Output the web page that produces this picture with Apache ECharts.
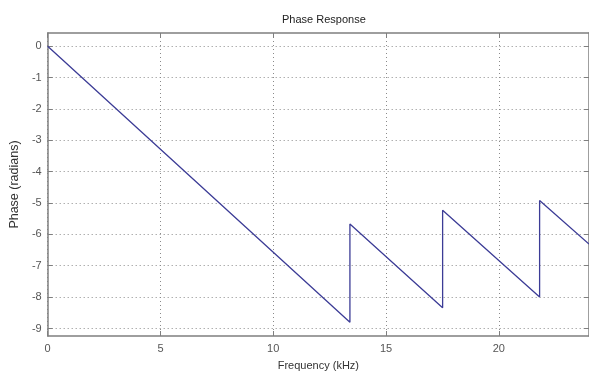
<!DOCTYPE html>
<html>
<head>
<meta charset="utf-8">
<script src="https://cdn.jsdelivr.net/npm/echarts@6/dist/echarts.min.js"></script>
<style>
html,body{margin:0;padding:0;background:#fff;}
#chart{width:589px;height:376px;}
</style>
</head>
<body>
<div id="chart"></div>
<script>
// Data
var freqKHz = [0, 13.40, 13.40, 17.51, 17.51, 21.81, 21.81, 24];
var phaseRad = [0, -8.80, -5.67, -8.34, -5.23, -8.00, -4.92, -6.31];
var yTicks = [0, -1, -2, -3, -4, -5, -6, -7, -8, -9];
var xTicks = [0, 5, 10, 15, 20];
var titleText = 'Phase Response';
var xLabel = 'Frequency (kHz)';
var yLabel = 'Phase (radians)';

var points = freqKHz.map(function (f, i) { return [f, phaseRad[i]]; });

var font = 'Liberation Sans, Arial, sans-serif';
var axisColor = '#7f7f7f';
var gridStyle = { color: '#8a8a8a', type: [1, 3], width: 1 };

var chart = echarts.init(document.getElementById('chart'), null, { renderer: 'canvas' });
chart.setOption({
  animation: false,
  backgroundColor: '#ffffff',
  title: {
    text: titleText,
    left: 277, top: 9,
    textStyle: { fontFamily: font, fontSize: 11, fontWeight: 'normal', color: '#222' }
  },
  grid: { left: 43, top: 33, width: 549, height: 305, containLabel: false },
  xAxis: [{
    type: 'value', min: 0, max: 24, interval: 5,
    name: xLabel, nameLocation: 'middle', nameGap: 24,
    nameTextStyle: { fontFamily: font, fontSize: 11, color: '#333' },
    axisLine: { show: true, onZero: false, lineStyle: { color: axisColor, width: 1.5 } },
    axisTick: { show: true, inside: true, length: 5, lineStyle: { color: axisColor }, customValues: xTicks },
    axisLabel: { fontFamily: font, fontSize: 11, color: '#555', margin: 7, customValues: xTicks },
    splitLine: { show: true, lineStyle: gridStyle }
  }, {
    type: 'value', min: 0, max: 24, interval: 5, position: 'top',
    axisLine: { show: true, onZero: false, lineStyle: { color: axisColor, width: 1.5 } },
    axisTick: { show: true, inside: true, length: 5, lineStyle: { color: axisColor }, customValues: xTicks },
    axisLabel: { show: false },
    splitLine: { show: false }
  }],
  yAxis: [{
    type: 'value', min: -9.24, max: 0.42,
    name: yLabel, nameLocation: 'middle', nameGap: 19, nameRotate: 90,
    nameTextStyle: { fontFamily: font, fontSize: 12.5, color: '#333' },
    axisLine: { show: true, onZero: false, lineStyle: { color: axisColor, width: 1.5 } },
    axisTick: { show: true, inside: true, length: 5, lineStyle: { color: axisColor }, customValues: yTicks },
    axisLabel: { fontFamily: font, fontSize: 11, color: '#555', margin: 6, customValues: yTicks },
    splitLine: { show: true, lineStyle: gridStyle }
  }, {
    type: 'value', min: -9.24, max: 0.42, position: 'right',
    axisLine: { show: true, onZero: false, lineStyle: { color: axisColor, width: 1.5 } },
    axisTick: { show: true, inside: true, length: 5, lineStyle: { color: axisColor }, customValues: yTicks },
    axisLabel: { show: false, customValues: yTicks },
    splitLine: { show: false }
  }],
  series: [{
    type: 'line',
    data: points,
    showSymbol: false,
    symbol: 'none',
    lineStyle: { color: '#3c3c96', width: 1.3 },
    clip: true
  }]
});
</script>
</body>
</html>
